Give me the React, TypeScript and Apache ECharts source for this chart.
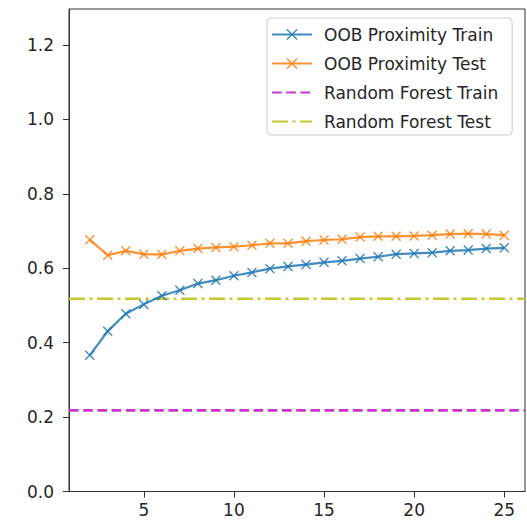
import React, { useEffect, useRef } from "react";
import * as echarts from "echarts";

const ks = [2, 3, 4, 5, 6, 7, 8, 9, 10, 11, 12, 13, 14, 15, 16, 17, 18, 19, 20, 21, 22, 23, 24, 25];
const oobTrain = [0.366, 0.431, 0.478, 0.503, 0.526, 0.541, 0.559, 0.568, 0.58, 0.589, 0.599, 0.605, 0.61, 0.616, 0.62, 0.626, 0.631, 0.638, 0.64, 0.642, 0.647, 0.649, 0.653, 0.655];
const oobTest = [0.677, 0.635, 0.647, 0.638, 0.637, 0.647, 0.653, 0.656, 0.658, 0.662, 0.667, 0.667, 0.673, 0.676, 0.678, 0.684, 0.686, 0.686, 0.687, 0.689, 0.692, 0.693, 0.692, 0.689];
const rfTrain = 0.218;
const rfTest = 0.518;
const xTicks = [5, 10, 15, 20, 25];
const yTicks = [0, 0.2, 0.4, 0.6, 0.8, 1.0, 1.2];
const xMin = 0.85;
const xMax = 26.15;
const yMin = 0;
const yMax = 1.297;

const FONT = "DejaVu Sans";
const X_PATH = "path://M0,1 L1,0 L5,4 L9,0 L10,1 L6,5 L10,9 L9,10 L5,6 L1,10 L0,9 L4,5 Z";

export default function App() {
  const ref = useRef<HTMLDivElement>(null);
  useEffect(() => {
    if (!ref.current) return;
    const chart = echarts.init(ref.current, undefined, { renderer: "svg" });
    const pair = (ys: number[]) => ks.map((k, i) => [k, ys[i]]);
    chart.setOption({
      animation: false,
      backgroundColor: "#ffffff",
      grid: {
        left: 69,
        right: 2,
        top: 9,
        bottom: 29.5,
        show: true,
        borderColor: "#333",
        borderWidth: 1,
        backgroundColor: "transparent",
      },
      legend: {
        orient: "vertical",
        left: 267,
        top: 18,
        padding: [8, 14, 5, 4],
        itemWidth: 40,
        itemHeight: 14,
        itemGap: 12,
        backgroundColor: "rgba(255,255,255,0.85)",
        borderColor: "#cccccc",
        borderWidth: 1,
        borderRadius: 4,
        textStyle: { fontFamily: FONT, fontSize: 17, color: "#262626", padding: [0, 0, 0, 7] },
        data: [
          "OOB Proximity Train",
          "OOB Proximity Test",
          { name: "Random Forest Train", itemStyle: { opacity: 0 } },
          { name: "Random Forest Test", itemStyle: { opacity: 0 } },
        ],
      },
      xAxis: {
        type: "value",
        min: xMin,
        max: xMax,
        splitLine: { show: false },
        axisLine: { show: true, lineStyle: { color: "#333", width: 1 } },
        axisTick: { show: true, length: 6, lineStyle: { color: "#333" }, customValues: xTicks },
        axisLabel: {
          customValues: xTicks,
          fontFamily: FONT,
          fontSize: 17,
          color: "#262626",
          margin: 10,
          formatter: (v: number) => String(v),
        },
      },
      yAxis: {
        type: "value",
        min: yMin,
        max: yMax,
        splitLine: { show: false },
        axisLine: { show: true, lineStyle: { color: "#333", width: 1 } },
        axisTick: { show: true, length: 6, lineStyle: { color: "#333" }, customValues: yTicks },
        axisLabel: {
          customValues: yTicks,
          fontFamily: FONT,
          fontSize: 17,
          color: "#262626",
          margin: 15,
          formatter: (v: number) => v.toFixed(1),
        },
      },
      series: [
        {
          name: "OOB Proximity Train",
          type: "line",
          data: pair(oobTrain),
          symbol: X_PATH,
          symbolSize: 10,
          color: "#1f77b4",
          lineStyle: { color: "#1f77b4", width: 2.2, opacity: 0.85 },
          itemStyle: { color: "#1f77b4", opacity: 0.85 },
          z: 3,
        },
        {
          name: "OOB Proximity Test",
          type: "line",
          data: pair(oobTest),
          symbol: X_PATH,
          symbolSize: 10,
          color: "#ff7f0e",
          lineStyle: { color: "#ff7f0e", width: 2.2, opacity: 0.85 },
          itemStyle: { color: "#ff7f0e", opacity: 0.85 },
          z: 3,
        },
        {
          name: "Random Forest Train",
          type: "line",
          data: [[xMin, rfTrain], [xMax, rfTrain]],
          symbol: "none",
          color: "#cc33cc",
          lineStyle: { color: "#cc33cc", width: 2.6, type: [9.6, 4.6] },
          z: 2,
        },
        {
          name: "Random Forest Test",
          type: "line",
          data: [[xMin, rfTest], [xMax, rfTest]],
          symbol: "none",
          color: "#c8c832",
          lineStyle: { color: "#c8c832", width: 2.6, type: [16, 4.5, 3, 4.5] },
          z: 2,
        },
      ],
    });
    return () => chart.dispose();
  }, []);
  return (
    <div
      ref={ref}
      style={{ position: "fixed", left: 0, top: 0, width: 527, height: 521, background: "#fff" }}
    />
  );
}
